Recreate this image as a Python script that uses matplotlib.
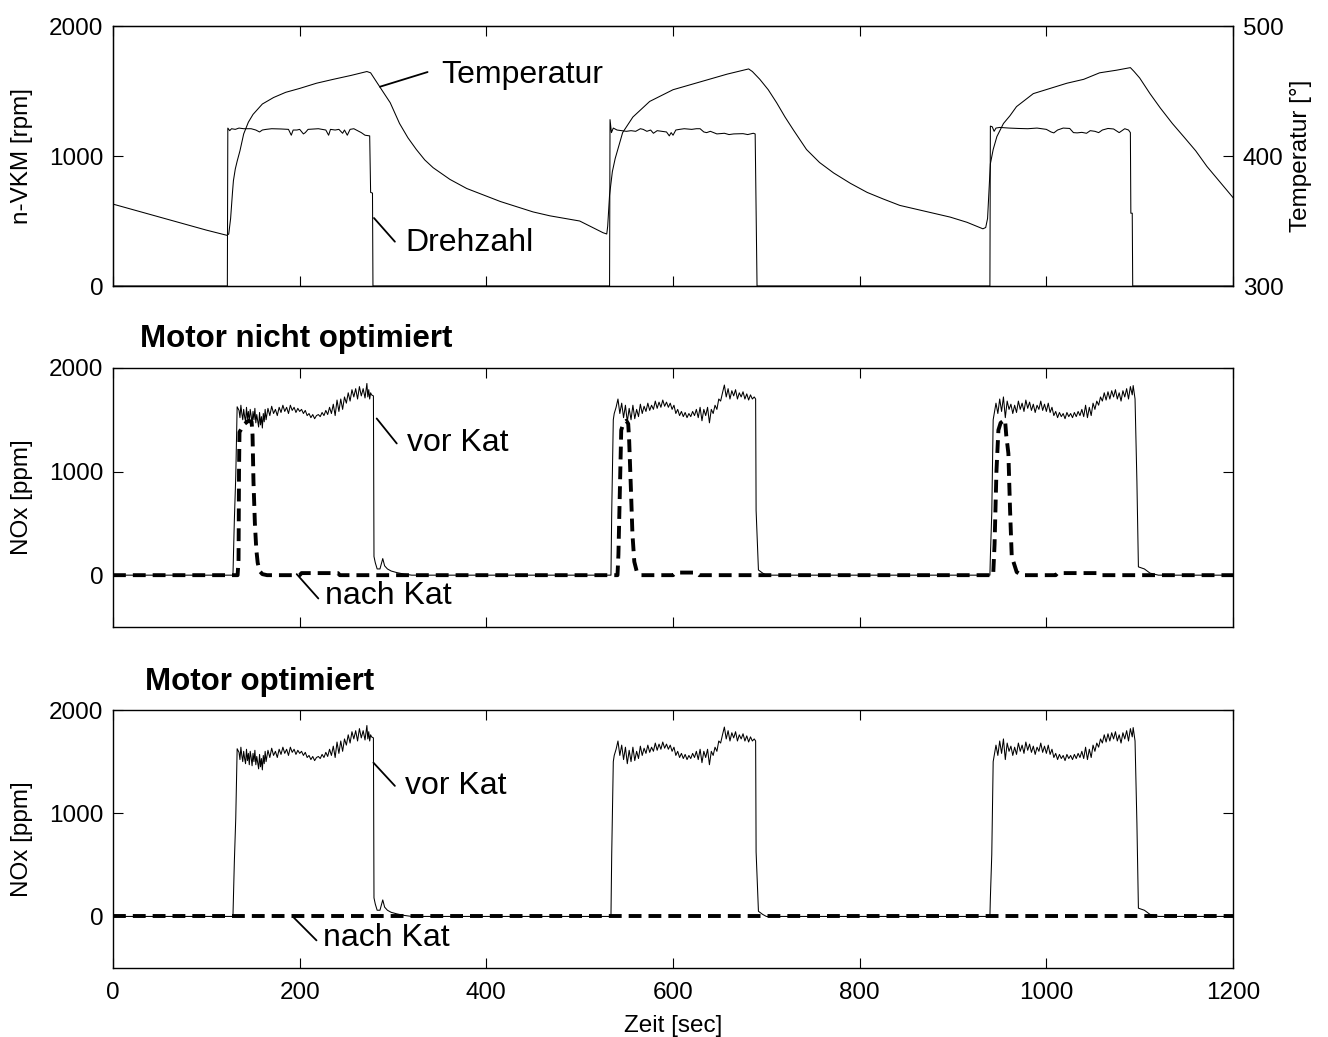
import matplotlib
matplotlib.use('Agg')
import matplotlib.pyplot as plt

plt.rcParams['font.family'] = ['Liberation Sans', 'DejaVu Sans']

# --- top panel: engine speed (rpm) and catalyst temperature (deg)
temp_t = [0, 20, 40, 60, 80, 100, 122, 124, 126, 128, 129, 131, 133, 136, 140, 145, 150, 160, 172, 185, 200,
          218, 236, 255, 272, 276, 286, 297, 307, 316, 325, 334, 343, 361, 379, 397, 415, 450, 468, 500,
          525, 529, 530, 532, 535, 538, 546, 557, 575, 600, 629, 658, 681, 685, 693, 702, 711, 720, 729,
          743, 757, 772, 790, 808, 825, 843, 879, 897, 915, 932, 935, 937, 940, 943, 947, 954, 961, 968,
          977, 986, 1004, 1022, 1040, 1057, 1075, 1090, 1094, 1100, 1111, 1122, 1135, 1147, 1160, 1172,
          1186, 1200]
temp_v = [363, 359, 355, 351, 347, 343, 339, 340, 352, 372, 381, 390, 396, 404, 417, 426, 432, 440, 445, 449, 452,
          456, 459, 462, 465, 464, 453, 441, 425, 414, 405, 397, 391, 382, 375, 370, 365, 357, 354, 350,
          341, 340, 346, 370, 388, 398, 418, 430, 442, 451, 457, 463, 467, 465, 459, 451, 441, 430, 420,
          405, 395, 387, 379, 372, 367, 362, 356, 353, 349, 344, 345, 352, 394, 405, 415, 425, 431, 438,
          443, 448, 452, 456, 459, 464, 466, 468, 465, 460, 448, 437, 425, 415, 404, 392,
          380, 368]

rpm_t = [0, 122.5, 123, 125, 127, 131, 135, 140, 148, 153, 157, 160, 164, 170, 180, 188, 191, 193, 197, 200,
         204, 206, 209, 220, 228, 231, 233, 238, 242, 246, 248, 251, 254, 258, 262, 266, 270, 275, 276,
         278, 278.5,
         532, 532.5, 534, 536, 540, 545, 550, 555, 560, 565, 568, 572, 576, 579, 583, 588, 593, 596, 598,
         600, 603, 607, 612, 620, 625, 629, 633, 636, 640, 647, 655, 660, 665, 675, 680, 686, 688, 690,
         939.5, 940, 942, 944, 946, 950, 960, 970, 980, 990, 1000, 1005, 1008, 1012, 1018, 1025, 1029,
         1033, 1038, 1043, 1047, 1052, 1056, 1060, 1066, 1072, 1078, 1084, 1088, 1090, 1090.5, 1092,
         1092.5, 1200]
rpm_v = [0, 0, 1215, 1195, 1210, 1205, 1215, 1210, 1210, 1200, 1185, 1200, 1205, 1210, 1208, 1205, 1160, 1200,
         1200, 1205, 1170, 1180, 1205, 1210, 1200, 1160, 1205, 1200, 1205, 1175, 1200, 1160, 1205, 1210,
         1195, 1180, 1160, 1155, 720, 715, 0,
         0, 1280, 1180, 1215, 1200, 1195, 1190, 1195, 1190, 1210, 1205, 1190, 1200, 1175, 1195, 1190,
         1185, 1155, 1180, 1160, 1200, 1205, 1210, 1205, 1210, 1210, 1185, 1180, 1190, 1170, 1175, 1165,
         1170, 1172, 1165, 1175, 1170, 0,
         0, 1230, 1225, 1190, 1215, 1220, 1215, 1212, 1210, 1215, 1205, 1185, 1178, 1200, 1215, 1212,
         1180, 1178, 1182, 1175, 1195, 1190, 1180, 1200, 1212, 1208, 1180, 1210, 1200, 1180, 560, 560,
         0, 0]

# --- NOx before catalyst (same signal shown in both lower panels)
vor_t = [0, 128.5, 130, 131.5, 133, 135, 136, 137, 138, 139, 140, 141, 142, 143, 144, 145, 146, 147, 148, 149,
         150, 151, 152, 153, 154, 156, 157, 158, 159, 160, 161, 162, 163, 164, 166, 168, 170, 172, 174,
         176, 178, 180, 182, 184, 186, 188, 190, 192, 194, 196, 198, 200, 202, 204, 206, 208, 210, 212,
         214, 216, 218, 220, 222, 224, 226, 228, 230, 232, 234, 236, 238, 240, 242, 244, 246, 248, 250,
         252, 254, 256, 258, 260, 262, 264, 266, 268, 270, 272, 273, 274, 275, 276, 277, 279, 279.6,
         281, 283, 286, 289, 291, 294, 298, 304, 312, 320,
         533.5, 534.3, 536, 537, 539, 541, 543, 545, 547, 549, 551, 553, 555, 557, 559, 561, 563, 565,
         567, 569, 571, 573, 575, 577, 579, 581, 583, 585, 587, 589, 591, 593, 595, 597, 599, 601, 603,
         605, 607, 609, 611, 613, 615, 617, 619, 621, 623, 625, 627, 629, 631, 633, 635, 637, 639, 641,
         643, 645, 647, 649, 651, 653, 655, 657, 659, 661, 663, 665, 667, 669, 671, 673, 675, 677, 679,
         681, 683, 685, 687, 688.5, 689, 691.5, 696, 700,
         939.5, 940, 941.5, 943, 946, 948, 950, 952, 954, 956, 958, 960, 962, 964, 966, 968, 970, 972,
         974, 976, 978, 980, 982, 984, 986, 988, 990, 992, 994, 996, 998, 1000, 1002, 1004, 1006, 1008,
         1010, 1012, 1014, 1016, 1018, 1020, 1022, 1024, 1026, 1028, 1030, 1032, 1034, 1036, 1038, 1040,
         1042, 1044, 1046, 1048, 1050, 1052, 1054, 1056, 1058, 1060, 1062, 1064, 1066, 1068, 1070, 1072,
         1074, 1076, 1078, 1080, 1082, 1084, 1086, 1088, 1090, 1092, 1093, 1095, 1097, 1098.6, 1105,
         1111, 1120, 1200]
vor_v = [0, 0, 530, 950, 1625, 1590, 1520, 1640, 1560, 1500, 1600, 1530, 1480, 1620, 1510, 1580, 1470, 1600,
         1540, 1460, 1580, 1500, 1610, 1470, 1550, 1430, 1570, 1450, 1530, 1420, 1560, 1480, 1600, 1500,
         1610, 1540, 1630, 1560, 1600, 1540, 1620, 1570, 1640, 1580, 1620, 1560, 1640, 1590, 1620, 1570,
         1610, 1580, 1600, 1560, 1590, 1540, 1560, 1520, 1550, 1510, 1540, 1550, 1530, 1570, 1540, 1590,
         1550, 1620, 1560, 1650, 1540, 1690, 1580, 1700, 1600, 1720, 1660, 1760, 1680, 1790, 1720, 1800,
         1700, 1820, 1730, 1800, 1710, 1850, 1720, 1790, 1700, 1760, 1740, 1730, 180,
         120, 60, 60, 160, 90, 60, 40, 25, 10, 0,
         0, 600, 1500, 1560, 1620, 1700, 1560, 1660, 1520, 1640, 1480, 1610, 1500, 1640, 1510, 1600,
         1530, 1650, 1560, 1630, 1580, 1660, 1590, 1640, 1600, 1680, 1610, 1670, 1620, 1690, 1630, 1670,
         1620, 1660, 1600, 1640, 1560, 1600, 1540, 1580, 1530, 1570, 1520, 1560, 1530, 1580, 1540, 1600,
         1520, 1620, 1490, 1600, 1540, 1620, 1470, 1600, 1560, 1640, 1600, 1700, 1680, 1760, 1835, 1720,
         1800, 1700, 1780, 1730, 1790, 1700, 1760, 1720, 1770, 1700, 1750, 1690, 1740, 1700, 1720, 1700,
         625, 50, 20, 0,
         0, 180, 600, 1500, 1660, 1560, 1700, 1580, 1720, 1520, 1680, 1600, 1650, 1560, 1640, 1570, 1680,
         1600, 1660, 1580, 1690, 1610, 1670, 1590, 1650, 1570, 1640, 1600, 1680, 1590, 1650, 1580, 1660,
         1570, 1620, 1540, 1580, 1520, 1570, 1530, 1560, 1510, 1570, 1530, 1560, 1520, 1570, 1530, 1580,
         1540, 1600, 1530, 1640, 1520, 1620, 1540, 1660, 1600, 1680, 1640, 1720, 1680, 1760, 1690, 1770,
         1700, 1780, 1720, 1790, 1700, 1760, 1680, 1780, 1720, 1800, 1700, 1820, 1740, 1830, 1700, 900,
         80, 60, 20, 0, 0]

# --- NOx after catalyst, engine not optimised
nach_t = [0, 133.5, 134.5, 135, 135.5, 138, 141, 145, 148.5, 149.5, 150.5, 152, 153.5, 155, 157, 160, 165,
          200, 202, 241, 243,
          540.5, 541.5, 543, 544.5, 547, 550, 552, 553, 555, 556.5, 558.5, 561, 565,
          600, 603, 625, 628,
          943, 944.5, 946.5, 948.6, 951, 955.7, 957, 959.3, 961.1, 962.9, 968.2, 973.6,
          1010, 1012, 1055, 1057, 1200]
nach_v = [0, 0, 150, 1000, 1380, 1420, 1460, 1490, 1480, 1350, 900, 500, 250, 120, 40, 10, 0,
          0, 20, 20, 0,
          0, 200, 800, 1400, 1470, 1490, 1460, 1300, 800, 400, 130, 40, 0,
          0, 25, 25, 0,
          0, 300, 1000, 1400, 1470, 1500, 1350, 1175, 625, 180, 30, 0,
          0, 20, 20, 0, 0]

# --- NOx after catalyst, engine optimised
nach_opt_t = [0, 1200]
nach_opt_v = [0, 0]

x_ticks = [0, 200, 400, 600, 800, 1000, 1200]

fig = plt.figure(figsize=(13.28, 10.37), dpi=100)
ax1 = fig.add_axes([0.0851, 0.7242, 0.8434, 0.2507])
ax2 = fig.add_axes([0.0851, 0.3954, 0.8434, 0.2498])
ax3 = fig.add_axes([0.0851, 0.0665, 0.8434, 0.2488])

thin = dict(color='black', lw=0.75)
dash = dict(color='black', lw=2.8, linestyle=(0, (3.3, 1.8)))
lead = dict(arrowstyle='-', color='black', lw=1.3, shrinkA=0, shrinkB=0)
fs = 17.5
afs = 23

for ax in (ax1, ax2, ax3):
    ax.set_xlim(0, 1200)
    ax.set_xticks(x_ticks)
    ax.tick_params(direction='in', top=True, right=True, length=7, width=0.8, labelsize=fs, pad=7)
    ax.tick_params(axis='x', pad=10)
    for s in ax.spines.values():
        s.set_linewidth(1.0)

# top
ax1.plot(rpm_t, rpm_v, **thin)
ax1.set_ylim(0, 2000)
ax1.set_yticks([0, 1000, 2000])
ax1.tick_params(right=False, labelbottom=False)
ax1.set_ylabel('n-VKM [rpm]', fontsize=fs)
ax1.yaxis.set_label_coords(-0.071, 0.5)
tw = ax1.twinx()
tw.plot(temp_t, temp_v, **thin)
tw.set_ylim(300, 500)
tw.set_yticks([300, 400, 500])
tw.tick_params(direction='in', length=7, width=0.8, labelsize=fs, pad=7)
tw.set_ylabel('Temperatur [°]', fontsize=fs)
tw.yaxis.set_label_coords(1.051, 0.5)
ax1.annotate('', xy=(286, 1533), xytext=(337, 1646), arrowprops=lead)
ax1.text(352, 1623, 'Temperatur', fontsize=afs, va='center', ha='left')
ax1.annotate('', xy=(279.6, 523), xytext=(302, 341), arrowprops=lead)
ax1.text(313, 330, 'Drehzahl', fontsize=afs, va='center', ha='left')

# middle
ax2.plot(vor_t, vor_v, **thin)
ax2.plot(nach_t, nach_v, **dash)
ax2.set_ylim(-500, 2000)
ax2.set_yticks([0, 1000, 2000])
ax2.tick_params(labelbottom=False)
ax2.set_ylabel('NOx [ppm]', fontsize=fs)
ax2.yaxis.set_label_coords(-0.071, 0.5)
ax2.text(0.0241, 1.111, 'Motor nicht optimiert', transform=ax2.transAxes,
         fontsize=22.5, fontweight='bold', va='center', ha='left')
ax2.annotate('', xy=(282.5, 1512), xytext=(304, 1271), arrowprops=lead)
ax2.text(314.6, 1274, 'vor Kat', fontsize=afs, va='center', ha='left')
ax2.annotate('', xy=(196.8, 10), xytext=(220, -225), arrowprops=lead)
ax2.text(227, -205, 'nach Kat', fontsize=afs, va='center', ha='left')

# bottom
ax3.plot(vor_t, vor_v, **thin)
ax3.plot(nach_opt_t, nach_opt_v, **dash)
ax3.set_ylim(-500, 2000)
ax3.set_yticks([0, 1000, 2000])
ax3.set_ylabel('NOx [ppm]', fontsize=fs)
ax3.yaxis.set_label_coords(-0.071, 0.5)
ax3.set_xlabel('Zeit [sec]', fontsize=fs)
ax3.xaxis.set_label_coords(0.5, -0.182)
ax3.text(0.0286, 1.110, 'Motor optimiert', transform=ax3.transAxes,
         fontsize=22.5, fontweight='bold', va='center', ha='left')
ax3.annotate('', xy=(279, 1490), xytext=(302, 1265), arrowprops=lead)
ax3.text(313, 1265, 'vor Kat', fontsize=afs, va='center', ha='left')
ax3.annotate('', xy=(193, -5), xytext=(218, -232), arrowprops=lead)
ax3.text(224.7, -212, 'nach Kat', fontsize=afs, va='center', ha='left')

fig.savefig('out.png', dpi=100)
